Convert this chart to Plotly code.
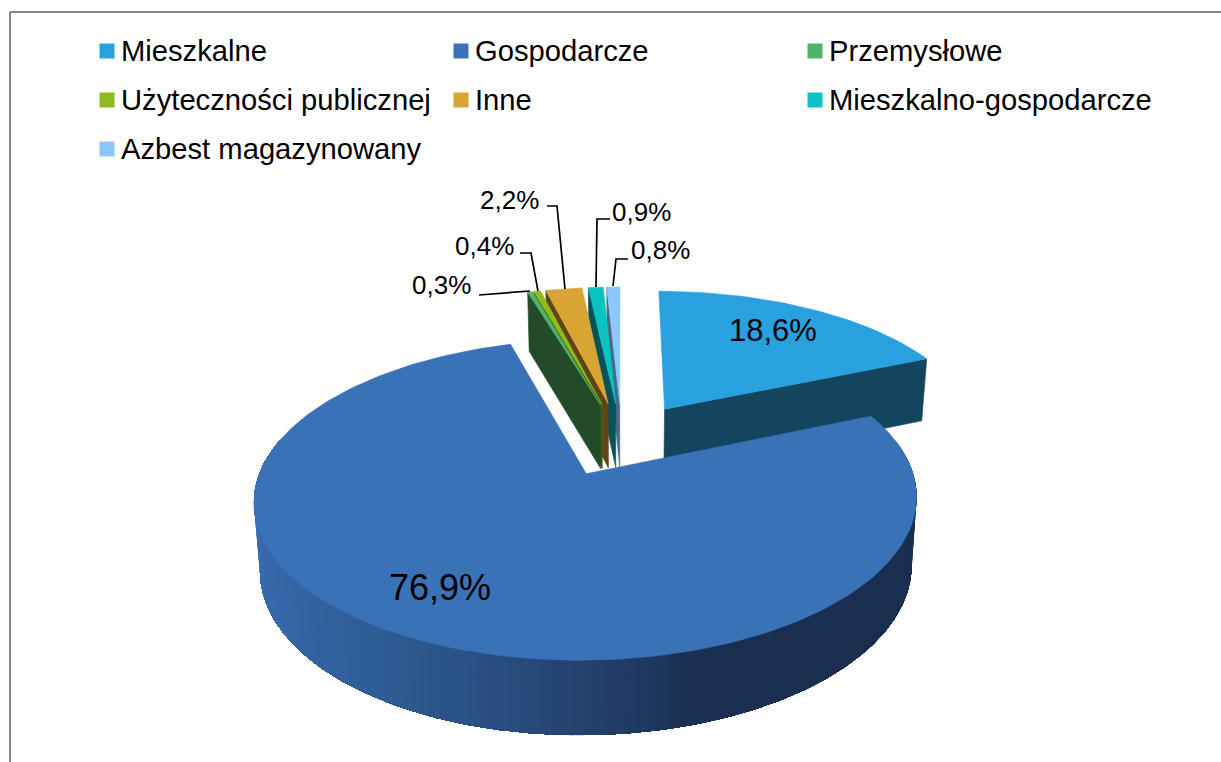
import numpy as np
import plotly.graph_objects as go

categories = ["Mieszkalne", "Gospodarcze", "Przemysłowe", "Użyteczności publicznej",
              "Inne", "Mieszkalno-gospodarcze", "Azbest magazynowany"]
values = [18.6, 76.9, 0.3, 0.4, 2.2, 0.9, 0.8]
value_labels = ["18,6%", "76,9%", "0,3%", "0,4%", "2,2%", "0,9%", "0,8%"]
top_colors = ["#28A1DE", "#3A72B8", "#4DB56A", "#92BA1F", "#D8A535", "#0BC2C2", "#8CC8FF"]
wall_colors = ["#14455F", "#1A2E4F", "#234B2A", "#3F5A16", "#5F4516", "#02535A", "#4B6A87"]

# Perspective camera of the tilted disc (screen px)
CX, Y0, A, B, PERSP, PULL = 621.7, 439.0, 315.0, 145.0, 0.157, 0.255
WALL_K, WALL_Y, WALL_X = 0.0433, -1072.0, 0.0164


def project(u, v, low=False):
    w = 1 + PERSP * np.asarray(v, float)
    x = CX + A * np.asarray(u, float) / w
    y = Y0 - B * np.asarray(v, float) / w
    if low:
        y = y + WALL_K * (y - WALL_Y)
        x = CX + (x - CX) * (1 - WALL_X)
    return x, y


total = sum(values)
edges = np.cumsum([0] + values) / total * 2 * np.pi

fig = go.Figure()


def poly(xs, ys, color, lw=0.6):
    fig.add_trace(go.Scatter(x=list(xs), y=list(ys), mode="lines", fill="toself", fillcolor=color,
                             line=dict(color=color, width=lw), hoverinfo="skip", showlegend=False))


def slice_geom(i, n=240):
    a0, a1 = edges[i], edges[i + 1]
    mid = (a0 + a1) / 2
    u0, v0 = PULL * np.sin(mid), PULL * np.cos(mid)
    t = np.linspace(a0, a1, max(3, int(n * (a1 - a0) / (2 * np.pi)) + 3))
    return u0, v0, u0 + np.sin(t), v0 + np.cos(t)


def draw_top(i):
    u0, v0, us, vs = slice_geom(i)
    x, y = project(np.r_[u0, us, u0], np.r_[v0, vs, v0])
    poly(x, y, top_colors[i])


def draw_face(i, which, color):
    u0, v0, us, vs = slice_geom(i)
    pu = [us[which], u0]
    pv = [vs[which], v0]
    xt, yt = project(pu, pv)
    xb, yb = project(pu, pv, low=True)
    poly(np.r_[xt, xb[::-1], xt[0]], np.r_[yt, yb[::-1], yt[0]], color)


# small far slices: left cut faces from right to left, then their tops
for i in range(6, 1, -1):
    draw_face(i, 0, wall_colors[i])
for i in range(2, 7):
    draw_top(i)

# first slice: right cut face and top
draw_face(0, -1, wall_colors[0])
draw_top(0)

# big slice: shaded rim then top
_, _, us, vs = slice_geom(1, n=900)
stops_x = [255, 330, 420, 520, 620, 700, 770, 920]
stops_rgb = np.array([[56, 108, 172], [50, 98, 158], [44, 88, 142], [40, 76, 126],
                      [34, 62, 104], [27, 48, 82], [26, 46, 79], [26, 46, 79]])
_, yt_all = project(us, vs)
front = yt_all > 440
us, vs = us[front], vs[front]
step = 4
for k in range(0, len(us) - 1, step):
    xt, yt = project(us[k:], vs[k:])
    xb, yb = project(us[k:], vs[k:], low=True)
    c = [int(np.interp(xt[0], stops_x, stops_rgb[:, ch])) for ch in range(3)]
    poly(np.r_[xt, xb[::-1]], np.r_[yt, yb[::-1]], f"rgb({c[0]},{c[1]},{c[2]})", lw=0)
draw_top(1)

# leader lines
leaders = [
    ([479, 530], [295, 291]),
    ([520, 531, 538], [253, 253, 291]),
    ([547, 557, 565], [206, 206, 289]),
    ([610, 597, 596], [219, 219, 287]),
    ([628, 616, 613], [259, 259, 286]),
]
for lx, ly in leaders:
    fig.add_trace(go.Scatter(x=lx, y=ly, mode="lines", line=dict(color="#000000", width=1.7),
                             hoverinfo="skip", showlegend=False))

# legend built as labelled square markers
legend_x = [107, 461, 815, 107, 461, 815, 107]
legend_y = [51, 51, 51, 100, 100, 100, 149]
for name, col, lx, ly in zip(categories, top_colors, legend_x, legend_y):
    fig.add_trace(go.Scatter(x=[lx], y=[ly], mode="markers", name=name,
                             marker=dict(symbol="square", size=15, color=col, line=dict(width=0)),
                             hoverinfo="name", showlegend=False))

annotations = []
for name, lx, ly in zip(categories, legend_x, legend_y):
    annotations.append(dict(x=lx + 12, y=ly, text=name, showarrow=False, xanchor="left", yanchor="middle",
                            font=dict(size=29.2, color="#000000", family="Liberation Sans")))
label_x = [773, 440, 441, 484, 509, 641, 660]
label_y = [330, 587, 285, 246, 200, 212, 250]
label_size = [31, 36, 26, 26, 26, 26, 26]
for t, lx, ly, s in zip(value_labels, label_x, label_y, label_size):
    annotations.append(dict(x=lx, y=ly, text=t, showarrow=False, xanchor="center", yanchor="middle",
                            font=dict(size=s, color="#000000", family="Liberation Sans")))

fig.update_layout(
    width=1221, height=762, margin=dict(l=0, r=0, t=0, b=0),
    paper_bgcolor="#FFFFFF", plot_bgcolor="#FFFFFF", showlegend=False, annotations=annotations,
    xaxis=dict(range=[0, 1221], visible=False, fixedrange=True),
    yaxis=dict(range=[762, 0], visible=False, fixedrange=True),
    shapes=[dict(type="line", x0=10, x1=10, y0=12, y1=762, line=dict(color="#868686", width=2)),
            dict(type="line", x0=10, x1=1221, y0=12, y1=12, line=dict(color="#868686", width=2))],
)
fig.write_html("out.html", config={"displayModeBar": False},
               post_script="document.body.style.margin='0';document.documentElement.style.overflow='hidden';")
